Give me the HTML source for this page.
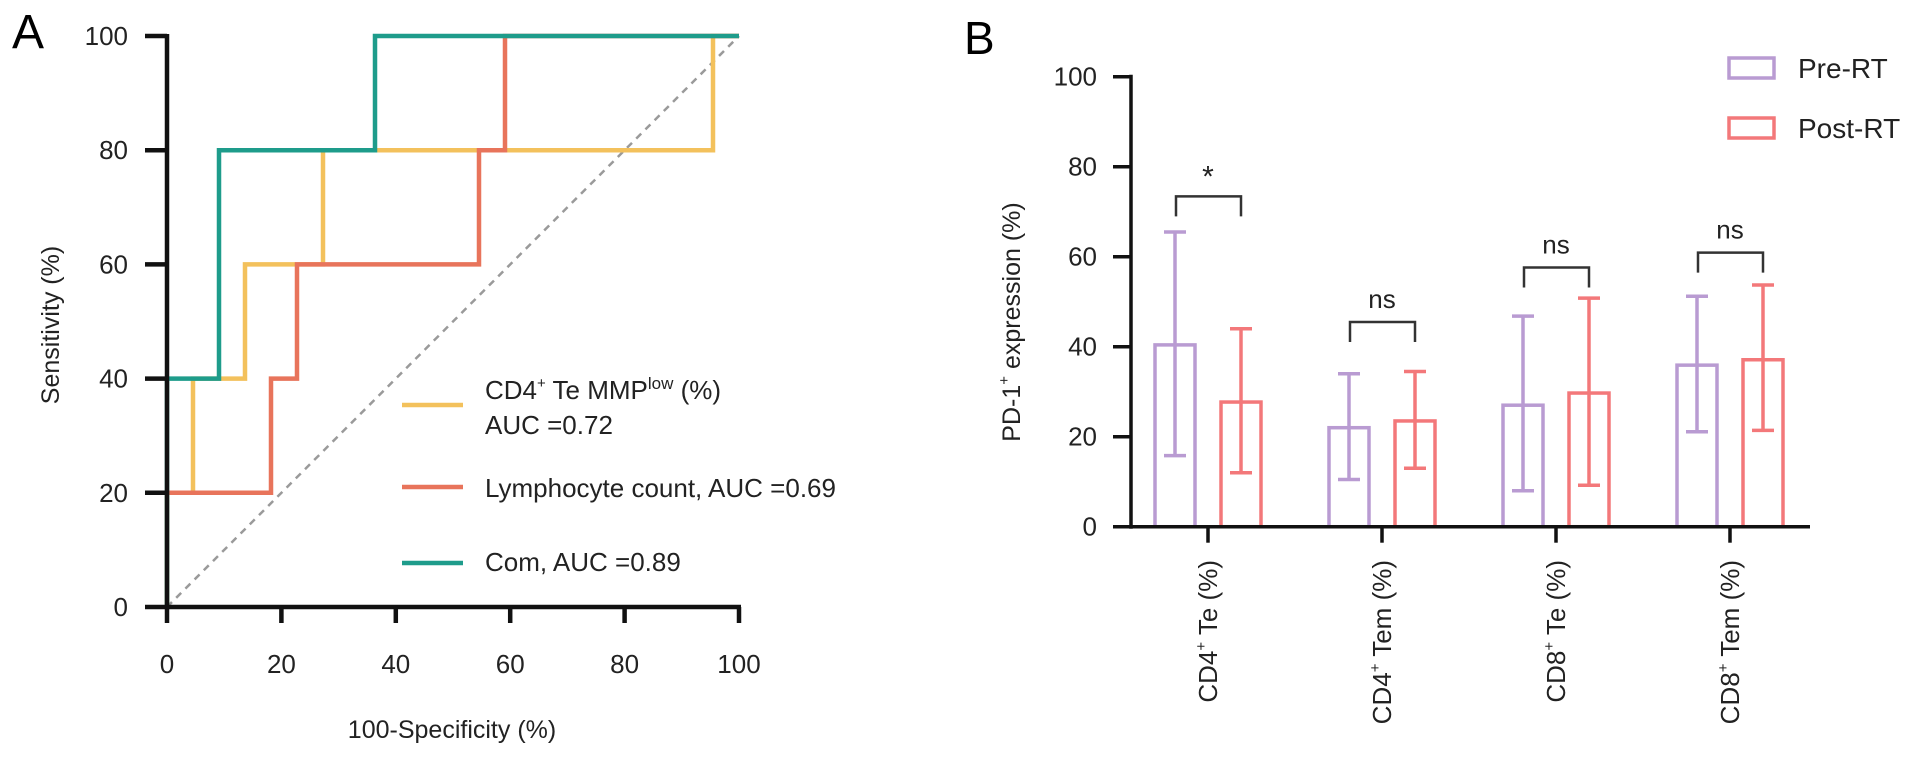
<!DOCTYPE html>
<html><head><meta charset="utf-8"><style>
html,body{margin:0;padding:0;background:#fff;}
svg{display:block;font-family:"Liberation Sans",Arial,sans-serif;}
</style></head><body>
<svg id="fig" width="1913" height="757" viewBox="0 0 1913 757">
<g id="pa"></g>
<g id="pb"></g>
</svg>
<script>
// Panel A data
const rocTicks = [0,20,40,60,80,100];
const rocTickLabels = ["0","20","40","60","80","100"];
const mmpX = [0,0,4.545,4.545,13.636,13.636,27.273,27.273,95.455,95.455,100];
const mmpY = [0,20,20,40,40,60,60,80,80,100,100];
const lymX = [0,18.182,18.182,22.727,22.727,54.545,54.545,59.091,59.091,100];
const lymY = [20,20,40,40,60,60,80,80,100,100];
const comX = [0,0,9.091,9.091,36.364,36.364,100];
const comY = [0,40,40,80,80,100,100];
// Panel B data
const categories = ["CD4⁺ Te (%)","CD4⁺ Tem (%)","CD8⁺ Te (%)","CD8⁺ Tem (%)"];
const preMean = [40.4,22,27,35.9];
const preLow = [15.8,10.5,8,21.1];
const preHigh = [65.5,34,46.8,51.2];
const postMean = [27.7,23.5,29.7,37.1];
const postLow = [12,13,9.2,21.4];
const postHigh = [44,34.5,50.8,53.7];
const sigLabels = ["*","ns","ns","ns"];
const bracketLevel = [73.4,45.5,57.6,60.9];
const barTicks = [0,20,40,60,80,100];

const NS="http://www.w3.org/2000/svg";
function mk(tag,attrs,parent,text){const e=document.createElementNS(NS,tag);for(const k in attrs)e.setAttribute(k,attrs[k]);if(text!==undefined)e.textContent=text;parent.appendChild(e);return e;}

// ---- Panel A
const pa=document.getElementById('pa');
const ax=v=>167+v*5.72, ay=v=>607-v*5.71;
let t=mk('text',{x:12,y:48,'font-size':48},pa,'A');

// diagonal
let d=mk('line',{x1:ax(0),y1:ay(0),x2:ax(100),y2:ay(100),stroke:'#9a9a9a','stroke-width':2.5,'stroke-dasharray':'7,6'},pa);

function roc(xs,ys,col,name){const p=xs.map((x,i)=>ax(x)+','+ay(ys[i])).join(' ');const e=mk('polyline',{points:p,fill:'none',stroke:col,'stroke-width':4.5},pa);}
roc(mmpX,mmpY,'#f3c15c','roc-mmp-low');
roc(lymX,lymY,'#e8745b','roc-lymphocyte');
roc(comX,comY,'#1e9c8b','roc-com');
// axes
let a1=mk('line',{x1:ax(0),y1:ay(100)-2,x2:ax(0),y2:ay(0)+2,stroke:'#111','stroke-width':4.5},pa);

let a2=mk('line',{x1:ax(0)-2,y1:ay(0),x2:ax(100)+2,y2:ay(0),stroke:'#111','stroke-width':4.5},pa);

rocTicks.forEach((v,i)=>{
 const ty=mk('line',{x1:ax(0)-22,y1:ay(v),x2:ax(0),y2:ay(v),stroke:'#111','stroke-width':4.5},pa);
 
 const ly=mk('text',{x:128,y:ay(v)+9,'font-size':26,'text-anchor':'end',fill:'#222'},pa,rocTickLabels[i]);
 
 const tx=mk('line',{x1:ax(v),y1:ay(0),x2:ax(v),y2:ay(0)+16,stroke:'#111','stroke-width':4.5},pa);
 
 const lx=mk('text',{x:ax(v),y:673,'font-size':26,'text-anchor':'middle',fill:'#222'},pa,rocTickLabels[i]);
 
});
t=mk('text',{x:452,y:738,'font-size':25,'text-anchor':'middle',fill:'#222'},pa,'100-Specificity (%)');

t=mk('text',{x:0,y:0,'font-size':25,'text-anchor':'middle',fill:'#222',transform:'translate(59,325) rotate(-90)'},pa,'Sensitivity (%)');

// legend
const lg=mk('g',{},pa);
let l=mk('line',{x1:402,y1:405,x2:463,y2:405,stroke:'#f3c15c','stroke-width':4.5},lg);
t=mk('text',{x:485,y:399,'font-size':26,fill:'#222'},lg);
t.innerHTML='CD4<tspan font-size="15" dy="-11">+</tspan><tspan dy="11"> Te MMP</tspan><tspan font-size="17" dy="-10">low</tspan><tspan dy="10"> (%)</tspan>';
t=mk('text',{x:485,y:434,'font-size':26,fill:'#222'},lg,'AUC =0.72');
l=mk('line',{x1:402,y1:487,x2:463,y2:487,stroke:'#e8745b','stroke-width':4.5},lg);
t=mk('text',{x:485,y:497,'font-size':26,fill:'#222'},lg,'Lymphocyte count, AUC =0.69');
l=mk('line',{x1:402,y1:563,x2:463,y2:563,stroke:'#1e9c8b','stroke-width':4.5},lg);
t=mk('text',{x:485,y:571,'font-size':26,fill:'#222'},lg,'Com, AUC =0.89');

// ---- Panel B
const pb=document.getElementById('pb');
const by=v=>526.7-v*4.5, bx=i=>1208+i*174;
const PRE='#b99bd2', POST='#f3787a';
t=mk('text',{x:964,y:54,'font-size':46},pb,'B');
function bar(cx,m,lo,hi,col,name){
 const g=mk('g',{},pb);
 mk('rect',{x:cx-20,y:by(m),width:40,height:by(0)-by(m),fill:'none',stroke:col,'stroke-width':3.5},g);
 mk('line',{x1:cx,y1:by(lo),x2:cx,y2:by(hi),stroke:col,'stroke-width':3.5},g);
 mk('line',{x1:cx-11,y1:by(lo),x2:cx+11,y2:by(lo),stroke:col,'stroke-width':3.5},g);
 mk('line',{x1:cx-11,y1:by(hi),x2:cx+11,y2:by(hi),stroke:col,'stroke-width':3.5},g);
}
categories.forEach((c,i)=>{
 bar(bx(i)-33,preMean[i],preLow[i],preHigh[i],PRE,'bar-pre-'+i);
 bar(bx(i)+33,postMean[i],postLow[i],postHigh[i],POST,'bar-post-'+i);
 const yb=by(bracketLevel[i]);
 const br=mk('polyline',{points:`${bx(i)-32},${yb+20} ${bx(i)-32},${yb} ${bx(i)+33},${yb} ${bx(i)+33},${yb+20}`,fill:'none',stroke:'#333','stroke-width':2.5},pb);
 
 const s=mk('text',{x:bx(i),y:sigLabels[i]==='*'?yb-10:yb-14,'font-size':sigLabels[i]==='*'?30:26,'text-anchor':'middle',fill:'#222'},pb,sigLabels[i]);
 
 const tk=mk('line',{x1:bx(i),y1:by(0),x2:bx(i),y2:by(0)+16,stroke:'#111','stroke-width':3.5},pb);
 
 const parts=c.split('⁺');
 const lb=mk('text',{x:0,y:0,'font-size':26,'text-anchor':'end',fill:'#222',transform:`translate(${bx(i)+9},560) rotate(-90)`},pb);
 lb.innerHTML=parts[0]+'<tspan font-size="15" dy="-11">+</tspan><tspan dy="11">'+parts[1]+'</tspan>';
 
});
let b1=mk('line',{x1:1131,y1:by(100)-2,x2:1131,y2:by(0)+2,stroke:'#111','stroke-width':3.5},pb);

let b2=mk('line',{x1:1129,y1:by(0),x2:1810,y2:by(0),stroke:'#111','stroke-width':3.5},pb);

barTicks.forEach(v=>{
 const tk=mk('line',{x1:1113,y1:by(v),x2:1131,y2:by(v),stroke:'#111','stroke-width':3.5},pb);
 
 const lb=mk('text',{x:1097,y:by(v)+9,'font-size':26,'text-anchor':'end',fill:'#222'},pb,String(v));
 
});
t=mk('text',{x:0,y:0,'font-size':25,'text-anchor':'middle',fill:'#222',transform:'translate(1020,322) rotate(-90)'},pb);
t.innerHTML='PD-1<tspan font-size="15" dy="-11">+</tspan><tspan dy="11"> expression (%)</tspan>';

const lgb=mk('g',{},pb);
let r=mk('rect',{x:1729,y:58,width:45,height:20,fill:'none',stroke:PRE,'stroke-width':3.5},lgb);
t=mk('text',{x:1798,y:78,'font-size':28,fill:'#222'},lgb,'Pre-RT');
r=mk('rect',{x:1729,y:118,width:45,height:20,fill:'none',stroke:POST,'stroke-width':3.5},lgb);
t=mk('text',{x:1798,y:138,'font-size':28,fill:'#222'},lgb,'Post-RT');
</script>
</body></html>
